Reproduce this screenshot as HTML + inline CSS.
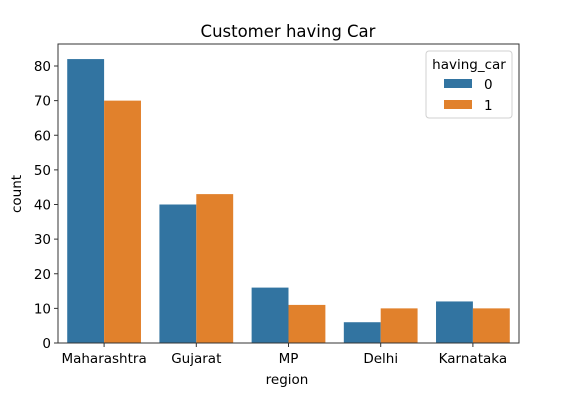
<!DOCTYPE html>
<html><head><meta charset="utf-8"><style>
body{margin:0;background:#fff;font-family:"Liberation Sans","DejaVu Sans",sans-serif;}
</style></head><body>
<svg width="567" height="404" xmlns="http://www.w3.org/2000/svg" font-family="DejaVu Sans, Liberation Sans, sans-serif">
<g id="plot"></g>
<text x="288" y="37" text-anchor="middle" font-size="16.5" fill="#000">Customer having Car</text>
<text x="287" y="384" text-anchor="middle" font-size="13.5">region</text>
<text transform="translate(21,194) rotate(-90)" text-anchor="middle" font-size="13.5">count</text>
<g>
<rect x="426" y="51" width="86" height="67" rx="3" fill="#fff" stroke="#ccc" stroke-width="1" opacity="0.9"/>
<text x="469" y="69" text-anchor="middle" font-size="13.5">having_car</text>
<rect x="444" y="79" width="28" height="9" fill="#3274a1"/>
<text x="484" y="89" font-size="13.5">0</text>
<rect x="444" y="100" width="28" height="9" fill="#e1812c"/>
<text x="484" y="110" font-size="13.5">1</text>
</g>
</svg>
<script>
const categories=["Maharashtra","Gujarat","MP","Delhi","Karnataka"];
const series0=[82,40,16,6,12];
const series1=[70,43,11,10,10];
const yTicks=[0,10,20,30,40,50,60,70,80];
const L=58,R=519,T=44,B=343;
const ns="http://www.w3.org/2000/svg";
const g=document.getElementById('plot');
const bw=(R-L)/categories.length;
const y=v=>B-(v/80)*(B-66);
const x=i=>L+bw*(i+0.5);
function mk(t,a){const e=document.createElementNS(ns,t);for(const k in a)e.setAttribute(k,a[k]);g.appendChild(e);return e;}
[series0,series1].forEach((s,si)=>{s.forEach((v,i)=>{
 const r=mk('rect',{x:x(i)-bw*0.4+si*bw*0.4,y:y(v),width:bw*0.4,height:B-y(v),fill:si?'#e1812c':'#3274a1'});
 
 
});});
yTicks.forEach(t=>{
 mk('line',{x1:L-4,x2:L,y1:y(t),y2:y(t),stroke:'#333'});
 const tx=mk('text',{x:L-7,y:y(t)+5,'text-anchor':'end','font-size':'13.5',fill:'#000'});tx.textContent=t;
 
 
});
categories.forEach((c,i)=>{
 mk('line',{x1:x(i),x2:x(i),y1:B,y2:B+4,stroke:'#333'});
 const tx=mk('text',{x:x(i),y:B+20,'text-anchor':'middle','font-size':'13.5',fill:'#000'});tx.textContent=c;
 
 
});
const fr=mk('rect',{x:L,y:T,width:R-L,height:B-T,fill:'none',stroke:'#333','stroke-width':1});


</script>
</body></html>
